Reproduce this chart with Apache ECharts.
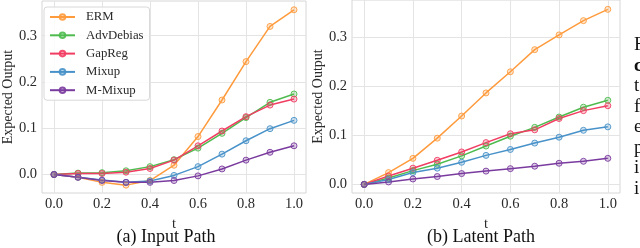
<!DOCTYPE html>
<html><head><meta charset="utf-8">
<script src="https://cdn.jsdelivr.net/npm/echarts@6/dist/echarts.min.js"></script>
<style>html,body{margin:0;padding:0;background:#fff}#c{width:640px;height:248px}</style>
</head><body><div id="c"></div>
<script>
// ---- data ----
const tValues = [0, 0.1, 0.2, 0.3, 0.4, 0.5, 0.6, 0.7, 0.8, 0.9, 1.0];
const xTickLabels = [0.0, 0.2, 0.4, 0.6, 0.8, 1.0];
const yTickLabels = [0.0, 0.1, 0.2, 0.3];
const seriesNames = ['ERM', 'AdvDebias', 'GapReg', 'Mixup', 'M-Mixup'];
const panelTitles = ['(a) Input Path', '(b) Latent Path'];

// (a) Input Path
const inputERM       = [0, -0.006, -0.017, -0.023, -0.013, 0.020, 0.082, 0.161, 0.244, 0.320, 0.356];
const inputAdvDebias = [0, 0.003, 0.004, 0.008, 0.017, 0.032, 0.057, 0.089, 0.123, 0.156, 0.174];
const inputGapReg    = [0, 0.002, 0.002, 0.005, 0.013, 0.031, 0.062, 0.094, 0.125, 0.150, 0.163];
const inputMixup     = [0, -0.006, -0.012, -0.017, -0.014, -0.002, 0.017, 0.044, 0.073, 0.099, 0.117];
const inputMMixup    = [0, -0.006, -0.013, -0.017, -0.017, -0.013, -0.003, 0.012, 0.031, 0.048, 0.062];

// (b) Latent Path
const latentERM       = [0, 0.024, 0.053, 0.094, 0.139, 0.186, 0.229, 0.274, 0.304, 0.333, 0.356];
const latentAdvDebias = [0, 0.013, 0.028, 0.041, 0.058, 0.078, 0.098, 0.116, 0.137, 0.157, 0.171];
const latentGapReg    = [0, 0.017, 0.033, 0.049, 0.066, 0.085, 0.103, 0.111, 0.134, 0.150, 0.160];
const latentMixup     = [0, 0.010, 0.024, 0.033, 0.045, 0.059, 0.071, 0.084, 0.096, 0.110, 0.117];
const latentMMixup    = [0, 0.005, 0.011, 0.016, 0.022, 0.027, 0.032, 0.037, 0.043, 0.047, 0.053];

const sideLetters = ['F', 'c', 't', 'f', 'e', 'p', 'i', 'i'];

// ---- style ----
const colors = ['#ff9b3d', '#4fbb4f', '#f23d63', '#4892c9', '#7a3b9f'];
const FONT = 'Liberation Serif';
const TXT = '#2a2a2a';
const GRID = '#e4e4e4';
const FRAME = '#d6d6d6';
const CLEAR = 'rgba(0,0,0,0)';

function rgba(hex, a) {
  const n = parseInt(hex.slice(1), 16);
  return 'rgba(' + (n >> 16) + ',' + ((n >> 8) & 255) + ',' + (n & 255) + ',' + a + ')';
}
function cycle(len, idx) {
  return Array.from({length: len}, (_, i) => i === idx ? GRID : CLEAR);
}
function isTick(v, list) { return list.some(x => Math.abs(x - v) < 1e-6); }

const inputSets = [inputERM, inputAdvDebias, inputGapReg, inputMixup, inputMMixup];
const latentSets = [latentERM, latentAdvDebias, latentGapReg, latentMixup, latentMMixup];

function makeSeries(sets, gi) {
  return sets.map((arr, k) => ({
    type: 'line', name: seriesNames[k], xAxisIndex: gi, yAxisIndex: gi,
    data: tValues.map((t, i) => [t, arr[i]]),
    symbol: 'circle', symbolSize: 6,
    lineStyle: {width: 1.5, color: colors[k]},
    itemStyle: {color: rgba(colors[k], 0.25), borderColor: rgba(colors[k], 0.9), borderWidth: 1},
    emphasis: {disabled: true},
    animation: false
  }));
}

function xAxis(gi) {
  return {
    type: 'value', gridIndex: gi, min: -0.05, max: 1.05, interval: 0.05,
    name: 't', nameLocation: 'middle', nameGap: 19,
    nameTextStyle: {fontFamily: FONT, fontSize: 14.5, color: TXT},
    axisLine: {show: false}, axisTick: {show: false},
    axisLabel: {margin: 4, fontFamily: FONT, fontSize: 14.5, color: TXT,
      formatter: v => isTick(v, xTickLabels) ? v.toFixed(1) : ''},
    splitLine: {show: true, lineStyle: {width: 1, color: cycle(4, 1)}}
  };
}
function yAxis(gi, min, interval, len, idx) {
  return {
    type: 'value', gridIndex: gi, min: min, max: 0.375, interval: interval,
    name: 'Expected Output', nameLocation: 'middle', nameGap: 25,
    nameTextStyle: {fontFamily: FONT, fontSize: 14, color: TXT},
    axisLine: {show: false}, axisTick: {show: false},
    axisLabel: {margin: 5, fontFamily: FONT, fontSize: 14.5, color: TXT,
      formatter: v => isTick(v, yTickLabels) ? v.toFixed(1) : ''},
    splitLine: {show: true, lineStyle: {width: 1, color: cycle(len, idx)}}
  };
}

const chart = echarts.init(document.getElementById('c'), null, {renderer: 'canvas'});
const sideText = sideLetters.map((s, i) => ({
  type: 'text', left: 634, top: 36 + i * 20.5,
  style: {text: s, font: (i === 1 ? 'bold ' : '') + '19px "Liberation Serif"', fill: '#111'}
}));

chart.setOption({
  animation: false,
  backgroundColor: '#fff',
  grid: [
    {left: 38, top: 1, width: 268, height: 192, show: true, borderColor: FRAME, borderWidth: 1, backgroundColor: CLEAR},
    {left: 352, top: 0, width: 268, height: 193, show: true, borderColor: FRAME, borderWidth: 1, backgroundColor: CLEAR}
  ],
  xAxis: [xAxis(0), xAxis(1)],
  yAxis: [yAxis(0, -0.04, 0.005, 20, 8), yAxis(1, -0.0175, 0.0025, 40, 7)],
  legend: {
    data: seriesNames, orient: 'vertical', left: 44, top: 7,
    itemWidth: 25, itemHeight: 7, itemGap: 4.3, padding: [3, 6, 3, 5],
    borderColor: '#d8d8d8', borderWidth: 1, borderRadius: 3,
    backgroundColor: 'rgba(255,255,255,0.85)',
    textStyle: {fontFamily: FONT, fontSize: 12.8, color: TXT, lineHeight: 14, padding: [0, 0, 0, 6]},
    selectedMode: false
  },
  graphic: [
    {type: 'text', x: 166, y: 237, style: {text: panelTitles[0], font: '18px "Liberation Serif"', fill: '#111', align: 'center', verticalAlign: 'middle'}},
    {type: 'text', x: 481, y: 237, style: {text: panelTitles[1], font: '18px "Liberation Serif"', fill: '#111', align: 'center', verticalAlign: 'middle'}}
  ].concat(sideText),
  series: makeSeries(inputSets, 0).concat(makeSeries(latentSets, 1))
});
</script>
</body></html>
